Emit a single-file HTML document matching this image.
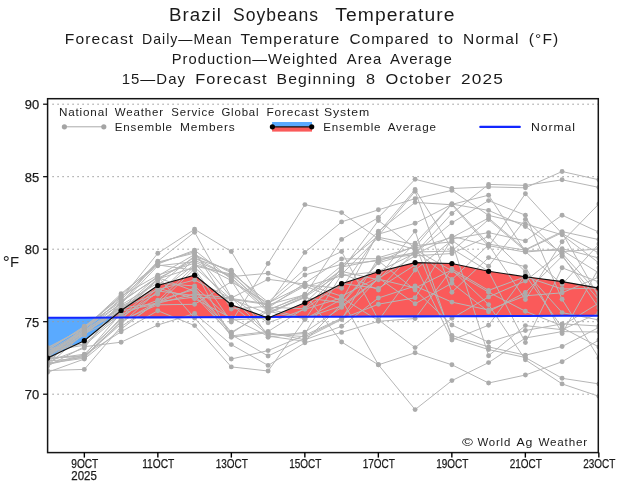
<!DOCTYPE html><html><head><meta charset="utf-8"><title>Brazil Soybeans Temperature</title>
<style>html,body{margin:0;padding:0;background:#fff}svg{display:block}text{font-family:"Liberation Sans",sans-serif;fill:#1a1a1a}</style></head><body>
<svg width="621" height="488" viewBox="0 0 621 488">
<rect width="621" height="488" fill="#fff"/>
<text x="168.9" y="21.2" font-size="17.5" letter-spacing="1.0" textLength="53.2" lengthAdjust="spacingAndGlyphs">Brazil</text>
<text x="233.1" y="21.2" font-size="17.5" letter-spacing="1.0" textLength="85.9" lengthAdjust="spacingAndGlyphs">Soybeans</text>
<text x="335.2" y="21.2" font-size="17.5" letter-spacing="1.0" textLength="120.4" lengthAdjust="spacingAndGlyphs">Temperature</text>
<text x="64.8" y="44.0" font-size="14.5" letter-spacing="1.0" textLength="69.4" lengthAdjust="spacingAndGlyphs">Forecast</text>
<text x="142.1" y="44.0" font-size="14.5" letter-spacing="1.0" textLength="90.5" lengthAdjust="spacingAndGlyphs">Daily—Mean</text>
<text x="240.5" y="44.0" font-size="14.5" letter-spacing="1.0" textLength="99.9" lengthAdjust="spacingAndGlyphs">Temperature</text>
<text x="349.4" y="44.0" font-size="14.5" letter-spacing="1.0" textLength="80.2" lengthAdjust="spacingAndGlyphs">Compared</text>
<text x="438.3" y="44.0" font-size="14.5" letter-spacing="1.0" textLength="15.8" lengthAdjust="spacingAndGlyphs">to</text>
<text x="463.1" y="44.0" font-size="14.5" letter-spacing="1.0" textLength="56.5" lengthAdjust="spacingAndGlyphs">Normal</text>
<text x="528.8" y="44.0" font-size="14.5" letter-spacing="1.0" textLength="30.5" lengthAdjust="spacingAndGlyphs">(°F)</text>
<text x="171.7" y="63.6" font-size="14.5" letter-spacing="1.0" textLength="166.6" lengthAdjust="spacingAndGlyphs">Production—Weighted</text>
<text x="346.8" y="63.6" font-size="14.5" letter-spacing="1.0" textLength="35.4" lengthAdjust="spacingAndGlyphs">Area</text>
<text x="389.9" y="63.6" font-size="14.5" letter-spacing="1.0" textLength="62.9" lengthAdjust="spacingAndGlyphs">Average</text>
<text x="121.7" y="84.3" font-size="14.5" letter-spacing="1.0" textLength="64.3" lengthAdjust="spacingAndGlyphs">15—Day</text>
<text x="195.2" y="84.3" font-size="14.5" letter-spacing="1.0" textLength="72.5" lengthAdjust="spacingAndGlyphs">Forecast</text>
<text x="276.6" y="84.3" font-size="14.5" letter-spacing="1.0" textLength="79.7" lengthAdjust="spacingAndGlyphs">Beginning</text>
<text x="366.1" y="84.3" font-size="14.5" letter-spacing="1.0" textLength="10.2" lengthAdjust="spacingAndGlyphs">8</text>
<text x="385.5" y="84.3" font-size="14.5" letter-spacing="1.0" textLength="66.3" lengthAdjust="spacingAndGlyphs">October</text>
<text x="461.0" y="84.3" font-size="14.5" letter-spacing="1.0" textLength="43.1" lengthAdjust="spacingAndGlyphs">2025</text>
<defs><clipPath id="c"><rect x="47.6" y="98.7" width="550.6999999999999" height="353.90000000000003"/></clipPath></defs>
<g clip-path="url(#c)">
<path d="M47.6,358.1 L84.3,340.7 L112.5,317.6 L112.5,317.6 L84.3,317.7 L47.6,317.8Z" fill="#5aaaff"/>
<path d="M112.5,317.6 L121.1,310.5 L157.8,285.5 L194.6,275.2 L231.3,304.7 L265.5,317.0 L265.5,317.0 L231.3,317.1 L194.6,317.2 L157.8,317.4 L121.1,317.5 L112.5,317.6Z" fill="#fa5a5a"/>
<path d="M265.5,317.0 L268.1,317.9 L270.4,317.0 L270.4,317.0 L268.1,317.0 L265.5,317.0Z" fill="#5aaaff"/>
<path d="M270.4,317.0 L304.9,302.8 L341.6,283.7 L378.4,271.7 L415.1,262.6 L451.9,263.5 L488.6,271.3 L525.4,276.7 L562.1,281.6 L598.9,288.1 L598.9,315.7 L562.1,315.8 L525.4,316.0 L488.6,316.1 L451.9,316.3 L415.1,316.4 L378.4,316.5 L341.6,316.7 L304.9,316.8 L270.4,317.0Z" fill="#fa5a5a"/>
<line x1="52.3" x2="598.3" y1="394.2" y2="394.2" stroke="#9c9c9c" stroke-width="1" stroke-dasharray="1.6 3.4"/>
<line x1="52.3" x2="598.3" y1="321.7" y2="321.7" stroke="#9c9c9c" stroke-width="1" stroke-dasharray="1.6 3.4"/>
<line x1="52.3" x2="598.3" y1="249.2" y2="249.2" stroke="#9c9c9c" stroke-width="1" stroke-dasharray="1.6 3.4"/>
<line x1="52.3" x2="598.3" y1="176.7" y2="176.7" stroke="#9c9c9c" stroke-width="1" stroke-dasharray="1.6 3.4"/>
<line x1="52.3" x2="598.3" y1="104.2" y2="104.2" stroke="#9c9c9c" stroke-width="1" stroke-dasharray="1.6 3.4"/>
<path d="M47.6,352.4 L84.3,331.6 L121.1,311.0 L157.8,304.0 L194.6,268.9 L231.3,322.0 L268.1,263.5 L304.9,204.6 L341.6,212.6 L378.4,238.8 L415.1,249.5 L451.9,270.8 L488.6,292.2 L525.4,311.3 L562.1,325.8 L598.9,303.0" fill="none" stroke="#b6b6b6" stroke-width="1"/>
<path d="M47.6,355.2 L84.3,333.7 L121.1,316.0 L157.8,285.5 L194.6,255.9 L231.3,271.5 L268.1,305.5 L304.9,252.4 L341.6,221.9 L378.4,209.8 L415.1,198.7 L451.9,190.4 L488.6,215.4 L525.4,224.0 L562.1,234.8 L598.9,263.0" fill="none" stroke="#b6b6b6" stroke-width="1"/>
<path d="M47.6,354.5 L84.3,332.6 L121.1,310.0 L157.8,279.0 L194.6,267.4 L231.3,299.3 L268.1,304.7 L304.9,294.9 L341.6,239.4 L378.4,217.5 L415.1,179.3 L451.9,188.5 L488.6,186.9 L525.4,187.8 L562.1,171.5 L598.9,179.8" fill="none" stroke="#b6b6b6" stroke-width="1"/>
<path d="M47.6,351.7 L84.3,329.4 L121.1,295.0 L157.8,263.0 L194.6,251.6 L231.3,309.0 L268.1,306.3 L304.9,285.9 L341.6,301.0 L378.4,232.7 L415.1,189.5 L451.9,248.7 L488.6,271.3 L525.4,342.6 L562.1,267.8 L598.9,282.0" fill="none" stroke="#b6b6b6" stroke-width="1"/>
<path d="M47.6,365.3 L84.3,333.2 L121.1,307.0 L157.8,294.0 L194.6,258.8 L231.3,270.2 L268.1,308.0 L304.9,283.2 L341.6,258.9 L378.4,258.7 L415.1,253.0 L451.9,213.5 L488.6,184.4 L525.4,185.4 L562.1,179.8 L598.9,187.4" fill="none" stroke="#b6b6b6" stroke-width="1"/>
<path d="M47.6,356.6 L84.3,334.8 L121.1,305.0 L157.8,283.0 L194.6,286.0 L231.3,320.0 L268.1,318.0 L304.9,303.0 L341.6,268.6 L378.4,231.2 L415.1,202.4 L451.9,204.8 L488.6,246.5 L525.4,193.7 L562.1,233.7 L598.9,253.0" fill="none" stroke="#b6b6b6" stroke-width="1"/>
<path d="M47.6,353.8 L84.3,332.1 L121.1,303.0 L157.8,262.1 L194.6,253.1 L231.3,297.6 L268.1,333.8 L304.9,336.7 L341.6,318.9 L378.4,304.2 L415.1,297.8 L451.9,239.0 L488.6,232.6 L525.4,240.9 L562.1,215.2 L598.9,232.2" fill="none" stroke="#b6b6b6" stroke-width="1"/>
<path d="M47.6,357.3 L84.3,356.9 L121.1,322.0 L157.8,301.7 L194.6,297.1 L231.3,298.9 L268.1,313.8 L304.9,297.1 L341.6,272.9 L378.4,290.0 L415.1,250.8 L451.9,279.5 L488.6,244.9 L525.4,299.6 L562.1,241.7 L598.9,203.9" fill="none" stroke="#b6b6b6" stroke-width="1"/>
<path d="M47.6,370.5 L84.3,369.4 L121.1,326.6 L157.8,302.5 L194.6,287.8 L231.3,332.2 L268.1,311.3 L304.9,318.9 L341.6,299.4 L378.4,364.8 L415.1,409.6 L451.9,380.6 L488.6,362.6 L525.4,338.0 L562.1,331.6 L598.9,332.0" fill="none" stroke="#b6b6b6" stroke-width="1"/>
<path d="M47.6,372.3 L84.3,359.0 L121.1,329.2 L157.8,301.0 L194.6,266.0 L231.3,274.1 L268.1,310.5 L304.9,294.2 L341.6,342.0 L378.4,364.8 L415.1,352.8 L451.9,364.8 L488.6,383.0 L525.4,375.0 L562.1,361.7 L598.9,340.0" fill="none" stroke="#b6b6b6" stroke-width="1"/>
<path d="M47.6,353.1 L84.3,330.5 L121.1,309.0 L157.8,276.0 L194.6,254.5 L231.3,272.8 L268.1,302.2 L304.9,269.0 L341.6,251.5 L378.4,319.8 L415.1,347.6 L451.9,318.3 L488.6,296.9 L525.4,281.0 L562.1,251.7 L598.9,249.0" fill="none" stroke="#b6b6b6" stroke-width="1"/>
<path d="M47.6,362.6 L84.3,330.0 L121.1,308.0 L157.8,303.3 L194.6,294.0 L231.3,298.0 L268.1,279.3 L304.9,284.1 L341.6,296.2 L378.4,277.2 L415.1,231.1 L451.9,337.8 L488.6,349.6 L525.4,357.5 L562.1,378.3 L598.9,383.9" fill="none" stroke="#b6b6b6" stroke-width="1"/>
<path d="M47.6,348.2 L84.3,327.8 L121.1,304.0 L157.8,265.8 L194.6,261.7 L231.3,280.5 L268.1,337.2 L304.9,332.2 L341.6,307.4 L378.4,279.1 L415.1,288.0 L451.9,269.9 L488.6,304.6 L525.4,359.8 L562.1,383.9 L598.9,396.3" fill="none" stroke="#b6b6b6" stroke-width="1"/>
<path d="M47.6,348.9 L84.3,344.0 L121.1,312.0 L157.8,278.3 L194.6,260.2 L231.3,276.6 L268.1,273.3 L304.9,286.8 L341.6,275.8 L378.4,271.5 L415.1,253.3 L451.9,222.8 L488.6,200.6 L525.4,215.2 L562.1,299.3 L598.9,358.0" fill="none" stroke="#b6b6b6" stroke-width="1"/>
<path d="M47.6,349.6 L84.3,327.3 L121.1,296.2 L157.8,275.2 L194.6,263.1 L231.3,304.5 L268.1,334.9 L304.9,333.7 L341.6,274.4 L378.4,237.3 L415.1,244.5 L451.9,335.5 L488.6,346.9 L525.4,355.2 L562.1,346.5 L598.9,327.4" fill="none" stroke="#b6b6b6" stroke-width="1"/>
<path d="M47.6,366.0 L84.3,346.7 L121.1,342.2 L157.8,325.0 L194.6,313.5 L231.3,344.6 L268.1,365.4 L304.9,342.8 L341.6,332.4 L378.4,321.3 L415.1,318.5 L451.9,269.0 L488.6,290.4 L525.4,276.7 L562.1,289.0 L598.9,288.0" fill="none" stroke="#b6b6b6" stroke-width="1"/>
<path d="M47.6,360.5 L84.3,331.0 L121.1,298.7 L157.8,253.3 L194.6,229.3 L231.3,251.5 L268.1,313.0 L304.9,296.4 L341.6,265.6 L378.4,235.8 L415.1,191.3 L451.9,292.2 L488.6,257.6 L525.4,266.7 L562.1,333.5 L598.9,268.0" fill="none" stroke="#b6b6b6" stroke-width="1"/>
<path d="M47.6,355.9 L84.3,328.9 L121.1,300.0 L157.8,261.2 L194.6,232.2 L231.3,297.2 L268.1,322.8 L304.9,309.3 L341.6,297.8 L378.4,320.6 L415.1,270.0 L451.9,240.4 L488.6,266.3 L525.4,219.4 L562.1,254.8 L598.9,308.0" fill="none" stroke="#b6b6b6" stroke-width="1"/>
<path d="M47.6,364.0 L84.3,354.9 L121.1,331.8 L157.8,310.7 L194.6,325.6 L231.3,366.9 L268.1,371.0 L304.9,319.5 L341.6,267.1 L378.4,259.7 L415.1,254.5 L451.9,236.2 L488.6,245.7 L525.4,252.1 L562.1,248.7 L598.9,258.0" fill="none" stroke="#b6b6b6" stroke-width="1"/>
<path d="M47.6,350.3 L84.3,326.2 L121.1,302.0 L157.8,276.7 L194.6,318.0 L231.3,359.0 L268.1,350.6 L304.9,335.2 L341.6,318.2 L378.4,277.9 L415.1,303.7 L451.9,283.2 L488.6,311.7 L525.4,292.5 L562.1,256.3 L598.9,300.0" fill="none" stroke="#b6b6b6" stroke-width="1"/>
<path d="M47.6,361.2 L84.3,357.6 L121.1,317.5 L157.8,292.5 L194.6,264.6 L231.3,275.4 L268.1,307.2 L304.9,308.8 L341.6,283.5 L378.4,288.4 L415.1,265.0 L451.9,340.0 L488.6,325.2 L525.4,275.0 L562.1,327.7 L598.9,347.0" fill="none" stroke="#b6b6b6" stroke-width="1"/>
<path d="M47.6,359.9 L84.3,334.3 L121.1,306.0 L157.8,289.5 L194.6,280.0 L231.3,298.5 L268.1,303.9 L304.9,275.0 L341.6,264.2 L378.4,260.8 L415.1,290.0 L451.9,325.0 L488.6,342.2 L525.4,330.5 L562.1,323.9 L598.9,326.0" fill="none" stroke="#b6b6b6" stroke-width="1"/>
<path d="M47.6,347.5 L84.3,328.4 L121.1,293.7 L157.8,264.0 L194.6,250.2 L231.3,279.2 L268.1,312.1 L304.9,297.8 L341.6,302.6 L378.4,261.8 L415.1,245.7 L451.9,241.8 L488.6,355.7 L525.4,325.6 L562.1,329.7 L598.9,313.0" fill="none" stroke="#b6b6b6" stroke-width="1"/>
<path d="M47.6,351.0 L84.3,345.3 L121.1,314.5 L157.8,300.2 L194.6,289.5 L231.3,333.4 L268.1,308.8 L304.9,318.2 L341.6,305.8 L378.4,278.5 L415.1,255.8 L451.9,253.5 L488.6,236.3 L525.4,271.7 L562.1,312.6 L598.9,320.0" fill="none" stroke="#b6b6b6" stroke-width="1"/>
<path d="M47.6,363.3 L84.3,358.3 L121.1,320.5 L157.8,304.8 L194.6,304.3 L231.3,281.8 L268.1,303.0 L304.9,285.0 L341.6,288.3 L378.4,234.2 L415.1,223.3 L451.9,204.4 L488.6,195.2 L525.4,251.5 L562.1,284.4 L598.9,244.0" fill="none" stroke="#b6b6b6" stroke-width="1"/>
<path d="M47.6,361.9 L84.3,348.0 L121.1,301.0 L157.8,277.5 L194.6,291.3 L231.3,335.9 L268.1,331.5 L304.9,308.2 L341.6,271.4 L378.4,279.8 L415.1,243.2 L451.9,204.1 L488.6,210.4 L525.4,226.5 L562.1,253.3 L598.9,294.0" fill="none" stroke="#b6b6b6" stroke-width="1"/>
<path d="M47.6,359.2 L84.3,354.2 L121.1,319.0 L157.8,288.0 L194.6,298.7 L231.3,318.0 L268.1,336.1 L304.9,341.3 L341.6,304.2 L378.4,262.8 L415.1,252.0 L451.9,251.1 L488.6,219.6 L525.4,250.9 L562.1,250.2 L598.9,273.0" fill="none" stroke="#b6b6b6" stroke-width="1"/>
<path d="M47.6,358.5 L84.3,355.6 L121.1,313.0 L157.8,279.8 L194.6,257.4 L231.3,277.9 L268.1,309.7 L304.9,295.6 L341.6,270.0 L378.4,220.5 L415.1,248.2 L451.9,237.6 L488.6,218.0 L525.4,249.6 L562.1,231.6 L598.9,239.6" fill="none" stroke="#b6b6b6" stroke-width="1"/>
<path d="M47.6,364.6 L84.3,356.3 L121.1,324.0 L157.8,291.0 L194.6,295.6 L231.3,334.7 L268.1,356.0 L304.9,338.3 L341.6,319.5 L378.4,257.7 L415.1,247.0 L451.9,203.7 L488.6,244.1 L525.4,250.2 L562.1,232.7 L598.9,297.0" fill="none" stroke="#b6b6b6" stroke-width="1"/>
<path d="M47.6,358.0 L84.3,326.7 L121.1,297.5 L157.8,264.9 L194.6,270.3 L231.3,337.2 L268.1,332.6 L304.9,339.8 L341.6,326.3 L378.4,298.0 L415.1,286.0 L451.9,302.1 L488.6,310.0 L525.4,295.8 L562.1,292.8 L598.9,277.0" fill="none" stroke="#b6b6b6" stroke-width="1"/>
<circle cx="47.6" cy="352.4" r="2.45" fill="#ababab"/>
<circle cx="84.3" cy="331.6" r="2.45" fill="#ababab"/>
<circle cx="121.1" cy="311.0" r="2.45" fill="#ababab"/>
<circle cx="157.8" cy="304.0" r="2.45" fill="#ababab"/>
<circle cx="194.6" cy="268.9" r="2.45" fill="#ababab"/>
<circle cx="231.3" cy="322.0" r="2.45" fill="#ababab"/>
<circle cx="268.1" cy="263.5" r="2.45" fill="#ababab"/>
<circle cx="304.9" cy="204.6" r="2.45" fill="#ababab"/>
<circle cx="341.6" cy="212.6" r="2.45" fill="#ababab"/>
<circle cx="378.4" cy="238.8" r="2.45" fill="#ababab"/>
<circle cx="415.1" cy="249.5" r="2.45" fill="#ababab"/>
<circle cx="451.9" cy="270.8" r="2.45" fill="#ababab"/>
<circle cx="488.6" cy="292.2" r="2.45" fill="#ababab"/>
<circle cx="525.4" cy="311.3" r="2.45" fill="#ababab"/>
<circle cx="562.1" cy="325.8" r="2.45" fill="#ababab"/>
<circle cx="598.9" cy="303.0" r="2.45" fill="#ababab"/>
<circle cx="47.6" cy="355.2" r="2.45" fill="#ababab"/>
<circle cx="84.3" cy="333.7" r="2.45" fill="#ababab"/>
<circle cx="121.1" cy="316.0" r="2.45" fill="#ababab"/>
<circle cx="157.8" cy="285.5" r="2.45" fill="#ababab"/>
<circle cx="194.6" cy="255.9" r="2.45" fill="#ababab"/>
<circle cx="231.3" cy="271.5" r="2.45" fill="#ababab"/>
<circle cx="268.1" cy="305.5" r="2.45" fill="#ababab"/>
<circle cx="304.9" cy="252.4" r="2.45" fill="#ababab"/>
<circle cx="341.6" cy="221.9" r="2.45" fill="#ababab"/>
<circle cx="378.4" cy="209.8" r="2.45" fill="#ababab"/>
<circle cx="415.1" cy="198.7" r="2.45" fill="#ababab"/>
<circle cx="451.9" cy="190.4" r="2.45" fill="#ababab"/>
<circle cx="488.6" cy="215.4" r="2.45" fill="#ababab"/>
<circle cx="525.4" cy="224.0" r="2.45" fill="#ababab"/>
<circle cx="562.1" cy="234.8" r="2.45" fill="#ababab"/>
<circle cx="598.9" cy="263.0" r="2.45" fill="#ababab"/>
<circle cx="47.6" cy="354.5" r="2.45" fill="#ababab"/>
<circle cx="84.3" cy="332.6" r="2.45" fill="#ababab"/>
<circle cx="121.1" cy="310.0" r="2.45" fill="#ababab"/>
<circle cx="157.8" cy="279.0" r="2.45" fill="#ababab"/>
<circle cx="194.6" cy="267.4" r="2.45" fill="#ababab"/>
<circle cx="231.3" cy="299.3" r="2.45" fill="#ababab"/>
<circle cx="268.1" cy="304.7" r="2.45" fill="#ababab"/>
<circle cx="304.9" cy="294.9" r="2.45" fill="#ababab"/>
<circle cx="341.6" cy="239.4" r="2.45" fill="#ababab"/>
<circle cx="378.4" cy="217.5" r="2.45" fill="#ababab"/>
<circle cx="415.1" cy="179.3" r="2.45" fill="#ababab"/>
<circle cx="451.9" cy="188.5" r="2.45" fill="#ababab"/>
<circle cx="488.6" cy="186.9" r="2.45" fill="#ababab"/>
<circle cx="525.4" cy="187.8" r="2.45" fill="#ababab"/>
<circle cx="562.1" cy="171.5" r="2.45" fill="#ababab"/>
<circle cx="598.9" cy="179.8" r="2.45" fill="#ababab"/>
<circle cx="47.6" cy="351.7" r="2.45" fill="#ababab"/>
<circle cx="84.3" cy="329.4" r="2.45" fill="#ababab"/>
<circle cx="121.1" cy="295.0" r="2.45" fill="#ababab"/>
<circle cx="157.8" cy="263.0" r="2.45" fill="#ababab"/>
<circle cx="194.6" cy="251.6" r="2.45" fill="#ababab"/>
<circle cx="231.3" cy="309.0" r="2.45" fill="#ababab"/>
<circle cx="268.1" cy="306.3" r="2.45" fill="#ababab"/>
<circle cx="304.9" cy="285.9" r="2.45" fill="#ababab"/>
<circle cx="341.6" cy="301.0" r="2.45" fill="#ababab"/>
<circle cx="378.4" cy="232.7" r="2.45" fill="#ababab"/>
<circle cx="415.1" cy="189.5" r="2.45" fill="#ababab"/>
<circle cx="451.9" cy="248.7" r="2.45" fill="#ababab"/>
<circle cx="488.6" cy="271.3" r="2.45" fill="#ababab"/>
<circle cx="525.4" cy="342.6" r="2.45" fill="#ababab"/>
<circle cx="562.1" cy="267.8" r="2.45" fill="#ababab"/>
<circle cx="598.9" cy="282.0" r="2.45" fill="#ababab"/>
<circle cx="47.6" cy="365.3" r="2.45" fill="#ababab"/>
<circle cx="84.3" cy="333.2" r="2.45" fill="#ababab"/>
<circle cx="121.1" cy="307.0" r="2.45" fill="#ababab"/>
<circle cx="157.8" cy="294.0" r="2.45" fill="#ababab"/>
<circle cx="194.6" cy="258.8" r="2.45" fill="#ababab"/>
<circle cx="231.3" cy="270.2" r="2.45" fill="#ababab"/>
<circle cx="268.1" cy="308.0" r="2.45" fill="#ababab"/>
<circle cx="304.9" cy="283.2" r="2.45" fill="#ababab"/>
<circle cx="341.6" cy="258.9" r="2.45" fill="#ababab"/>
<circle cx="378.4" cy="258.7" r="2.45" fill="#ababab"/>
<circle cx="415.1" cy="253.0" r="2.45" fill="#ababab"/>
<circle cx="451.9" cy="213.5" r="2.45" fill="#ababab"/>
<circle cx="488.6" cy="184.4" r="2.45" fill="#ababab"/>
<circle cx="525.4" cy="185.4" r="2.45" fill="#ababab"/>
<circle cx="562.1" cy="179.8" r="2.45" fill="#ababab"/>
<circle cx="598.9" cy="187.4" r="2.45" fill="#ababab"/>
<circle cx="47.6" cy="356.6" r="2.45" fill="#ababab"/>
<circle cx="84.3" cy="334.8" r="2.45" fill="#ababab"/>
<circle cx="121.1" cy="305.0" r="2.45" fill="#ababab"/>
<circle cx="157.8" cy="283.0" r="2.45" fill="#ababab"/>
<circle cx="194.6" cy="286.0" r="2.45" fill="#ababab"/>
<circle cx="231.3" cy="320.0" r="2.45" fill="#ababab"/>
<circle cx="268.1" cy="318.0" r="2.45" fill="#ababab"/>
<circle cx="304.9" cy="303.0" r="2.45" fill="#ababab"/>
<circle cx="341.6" cy="268.6" r="2.45" fill="#ababab"/>
<circle cx="378.4" cy="231.2" r="2.45" fill="#ababab"/>
<circle cx="415.1" cy="202.4" r="2.45" fill="#ababab"/>
<circle cx="451.9" cy="204.8" r="2.45" fill="#ababab"/>
<circle cx="488.6" cy="246.5" r="2.45" fill="#ababab"/>
<circle cx="525.4" cy="193.7" r="2.45" fill="#ababab"/>
<circle cx="562.1" cy="233.7" r="2.45" fill="#ababab"/>
<circle cx="598.9" cy="253.0" r="2.45" fill="#ababab"/>
<circle cx="47.6" cy="353.8" r="2.45" fill="#ababab"/>
<circle cx="84.3" cy="332.1" r="2.45" fill="#ababab"/>
<circle cx="121.1" cy="303.0" r="2.45" fill="#ababab"/>
<circle cx="157.8" cy="262.1" r="2.45" fill="#ababab"/>
<circle cx="194.6" cy="253.1" r="2.45" fill="#ababab"/>
<circle cx="231.3" cy="297.6" r="2.45" fill="#ababab"/>
<circle cx="268.1" cy="333.8" r="2.45" fill="#ababab"/>
<circle cx="304.9" cy="336.7" r="2.45" fill="#ababab"/>
<circle cx="341.6" cy="318.9" r="2.45" fill="#ababab"/>
<circle cx="378.4" cy="304.2" r="2.45" fill="#ababab"/>
<circle cx="415.1" cy="297.8" r="2.45" fill="#ababab"/>
<circle cx="451.9" cy="239.0" r="2.45" fill="#ababab"/>
<circle cx="488.6" cy="232.6" r="2.45" fill="#ababab"/>
<circle cx="525.4" cy="240.9" r="2.45" fill="#ababab"/>
<circle cx="562.1" cy="215.2" r="2.45" fill="#ababab"/>
<circle cx="598.9" cy="232.2" r="2.45" fill="#ababab"/>
<circle cx="47.6" cy="357.3" r="2.45" fill="#ababab"/>
<circle cx="84.3" cy="356.9" r="2.45" fill="#ababab"/>
<circle cx="121.1" cy="322.0" r="2.45" fill="#ababab"/>
<circle cx="157.8" cy="301.7" r="2.45" fill="#ababab"/>
<circle cx="194.6" cy="297.1" r="2.45" fill="#ababab"/>
<circle cx="231.3" cy="298.9" r="2.45" fill="#ababab"/>
<circle cx="268.1" cy="313.8" r="2.45" fill="#ababab"/>
<circle cx="304.9" cy="297.1" r="2.45" fill="#ababab"/>
<circle cx="341.6" cy="272.9" r="2.45" fill="#ababab"/>
<circle cx="378.4" cy="290.0" r="2.45" fill="#ababab"/>
<circle cx="415.1" cy="250.8" r="2.45" fill="#ababab"/>
<circle cx="451.9" cy="279.5" r="2.45" fill="#ababab"/>
<circle cx="488.6" cy="244.9" r="2.45" fill="#ababab"/>
<circle cx="525.4" cy="299.6" r="2.45" fill="#ababab"/>
<circle cx="562.1" cy="241.7" r="2.45" fill="#ababab"/>
<circle cx="598.9" cy="203.9" r="2.45" fill="#ababab"/>
<circle cx="47.6" cy="370.5" r="2.45" fill="#ababab"/>
<circle cx="84.3" cy="369.4" r="2.45" fill="#ababab"/>
<circle cx="121.1" cy="326.6" r="2.45" fill="#ababab"/>
<circle cx="157.8" cy="302.5" r="2.45" fill="#ababab"/>
<circle cx="194.6" cy="287.8" r="2.45" fill="#ababab"/>
<circle cx="231.3" cy="332.2" r="2.45" fill="#ababab"/>
<circle cx="268.1" cy="311.3" r="2.45" fill="#ababab"/>
<circle cx="304.9" cy="318.9" r="2.45" fill="#ababab"/>
<circle cx="341.6" cy="299.4" r="2.45" fill="#ababab"/>
<circle cx="378.4" cy="364.8" r="2.45" fill="#ababab"/>
<circle cx="415.1" cy="409.6" r="2.45" fill="#ababab"/>
<circle cx="451.9" cy="380.6" r="2.45" fill="#ababab"/>
<circle cx="488.6" cy="362.6" r="2.45" fill="#ababab"/>
<circle cx="525.4" cy="338.0" r="2.45" fill="#ababab"/>
<circle cx="562.1" cy="331.6" r="2.45" fill="#ababab"/>
<circle cx="598.9" cy="332.0" r="2.45" fill="#ababab"/>
<circle cx="47.6" cy="372.3" r="2.45" fill="#ababab"/>
<circle cx="84.3" cy="359.0" r="2.45" fill="#ababab"/>
<circle cx="121.1" cy="329.2" r="2.45" fill="#ababab"/>
<circle cx="157.8" cy="301.0" r="2.45" fill="#ababab"/>
<circle cx="194.6" cy="266.0" r="2.45" fill="#ababab"/>
<circle cx="231.3" cy="274.1" r="2.45" fill="#ababab"/>
<circle cx="268.1" cy="310.5" r="2.45" fill="#ababab"/>
<circle cx="304.9" cy="294.2" r="2.45" fill="#ababab"/>
<circle cx="341.6" cy="342.0" r="2.45" fill="#ababab"/>
<circle cx="378.4" cy="364.8" r="2.45" fill="#ababab"/>
<circle cx="415.1" cy="352.8" r="2.45" fill="#ababab"/>
<circle cx="451.9" cy="364.8" r="2.45" fill="#ababab"/>
<circle cx="488.6" cy="383.0" r="2.45" fill="#ababab"/>
<circle cx="525.4" cy="375.0" r="2.45" fill="#ababab"/>
<circle cx="562.1" cy="361.7" r="2.45" fill="#ababab"/>
<circle cx="598.9" cy="340.0" r="2.45" fill="#ababab"/>
<circle cx="47.6" cy="353.1" r="2.45" fill="#ababab"/>
<circle cx="84.3" cy="330.5" r="2.45" fill="#ababab"/>
<circle cx="121.1" cy="309.0" r="2.45" fill="#ababab"/>
<circle cx="157.8" cy="276.0" r="2.45" fill="#ababab"/>
<circle cx="194.6" cy="254.5" r="2.45" fill="#ababab"/>
<circle cx="231.3" cy="272.8" r="2.45" fill="#ababab"/>
<circle cx="268.1" cy="302.2" r="2.45" fill="#ababab"/>
<circle cx="304.9" cy="269.0" r="2.45" fill="#ababab"/>
<circle cx="341.6" cy="251.5" r="2.45" fill="#ababab"/>
<circle cx="378.4" cy="319.8" r="2.45" fill="#ababab"/>
<circle cx="415.1" cy="347.6" r="2.45" fill="#ababab"/>
<circle cx="451.9" cy="318.3" r="2.45" fill="#ababab"/>
<circle cx="488.6" cy="296.9" r="2.45" fill="#ababab"/>
<circle cx="525.4" cy="281.0" r="2.45" fill="#ababab"/>
<circle cx="562.1" cy="251.7" r="2.45" fill="#ababab"/>
<circle cx="598.9" cy="249.0" r="2.45" fill="#ababab"/>
<circle cx="47.6" cy="362.6" r="2.45" fill="#ababab"/>
<circle cx="84.3" cy="330.0" r="2.45" fill="#ababab"/>
<circle cx="121.1" cy="308.0" r="2.45" fill="#ababab"/>
<circle cx="157.8" cy="303.3" r="2.45" fill="#ababab"/>
<circle cx="194.6" cy="294.0" r="2.45" fill="#ababab"/>
<circle cx="231.3" cy="298.0" r="2.45" fill="#ababab"/>
<circle cx="268.1" cy="279.3" r="2.45" fill="#ababab"/>
<circle cx="304.9" cy="284.1" r="2.45" fill="#ababab"/>
<circle cx="341.6" cy="296.2" r="2.45" fill="#ababab"/>
<circle cx="378.4" cy="277.2" r="2.45" fill="#ababab"/>
<circle cx="415.1" cy="231.1" r="2.45" fill="#ababab"/>
<circle cx="451.9" cy="337.8" r="2.45" fill="#ababab"/>
<circle cx="488.6" cy="349.6" r="2.45" fill="#ababab"/>
<circle cx="525.4" cy="357.5" r="2.45" fill="#ababab"/>
<circle cx="562.1" cy="378.3" r="2.45" fill="#ababab"/>
<circle cx="598.9" cy="383.9" r="2.45" fill="#ababab"/>
<circle cx="47.6" cy="348.2" r="2.45" fill="#ababab"/>
<circle cx="84.3" cy="327.8" r="2.45" fill="#ababab"/>
<circle cx="121.1" cy="304.0" r="2.45" fill="#ababab"/>
<circle cx="157.8" cy="265.8" r="2.45" fill="#ababab"/>
<circle cx="194.6" cy="261.7" r="2.45" fill="#ababab"/>
<circle cx="231.3" cy="280.5" r="2.45" fill="#ababab"/>
<circle cx="268.1" cy="337.2" r="2.45" fill="#ababab"/>
<circle cx="304.9" cy="332.2" r="2.45" fill="#ababab"/>
<circle cx="341.6" cy="307.4" r="2.45" fill="#ababab"/>
<circle cx="378.4" cy="279.1" r="2.45" fill="#ababab"/>
<circle cx="415.1" cy="288.0" r="2.45" fill="#ababab"/>
<circle cx="451.9" cy="269.9" r="2.45" fill="#ababab"/>
<circle cx="488.6" cy="304.6" r="2.45" fill="#ababab"/>
<circle cx="525.4" cy="359.8" r="2.45" fill="#ababab"/>
<circle cx="562.1" cy="383.9" r="2.45" fill="#ababab"/>
<circle cx="598.9" cy="396.3" r="2.45" fill="#ababab"/>
<circle cx="47.6" cy="348.9" r="2.45" fill="#ababab"/>
<circle cx="84.3" cy="344.0" r="2.45" fill="#ababab"/>
<circle cx="121.1" cy="312.0" r="2.45" fill="#ababab"/>
<circle cx="157.8" cy="278.3" r="2.45" fill="#ababab"/>
<circle cx="194.6" cy="260.2" r="2.45" fill="#ababab"/>
<circle cx="231.3" cy="276.6" r="2.45" fill="#ababab"/>
<circle cx="268.1" cy="273.3" r="2.45" fill="#ababab"/>
<circle cx="304.9" cy="286.8" r="2.45" fill="#ababab"/>
<circle cx="341.6" cy="275.8" r="2.45" fill="#ababab"/>
<circle cx="378.4" cy="271.5" r="2.45" fill="#ababab"/>
<circle cx="415.1" cy="253.3" r="2.45" fill="#ababab"/>
<circle cx="451.9" cy="222.8" r="2.45" fill="#ababab"/>
<circle cx="488.6" cy="200.6" r="2.45" fill="#ababab"/>
<circle cx="525.4" cy="215.2" r="2.45" fill="#ababab"/>
<circle cx="562.1" cy="299.3" r="2.45" fill="#ababab"/>
<circle cx="598.9" cy="358.0" r="2.45" fill="#ababab"/>
<circle cx="47.6" cy="349.6" r="2.45" fill="#ababab"/>
<circle cx="84.3" cy="327.3" r="2.45" fill="#ababab"/>
<circle cx="121.1" cy="296.2" r="2.45" fill="#ababab"/>
<circle cx="157.8" cy="275.2" r="2.45" fill="#ababab"/>
<circle cx="194.6" cy="263.1" r="2.45" fill="#ababab"/>
<circle cx="231.3" cy="304.5" r="2.45" fill="#ababab"/>
<circle cx="268.1" cy="334.9" r="2.45" fill="#ababab"/>
<circle cx="304.9" cy="333.7" r="2.45" fill="#ababab"/>
<circle cx="341.6" cy="274.4" r="2.45" fill="#ababab"/>
<circle cx="378.4" cy="237.3" r="2.45" fill="#ababab"/>
<circle cx="415.1" cy="244.5" r="2.45" fill="#ababab"/>
<circle cx="451.9" cy="335.5" r="2.45" fill="#ababab"/>
<circle cx="488.6" cy="346.9" r="2.45" fill="#ababab"/>
<circle cx="525.4" cy="355.2" r="2.45" fill="#ababab"/>
<circle cx="562.1" cy="346.5" r="2.45" fill="#ababab"/>
<circle cx="598.9" cy="327.4" r="2.45" fill="#ababab"/>
<circle cx="47.6" cy="366.0" r="2.45" fill="#ababab"/>
<circle cx="84.3" cy="346.7" r="2.45" fill="#ababab"/>
<circle cx="121.1" cy="342.2" r="2.45" fill="#ababab"/>
<circle cx="157.8" cy="325.0" r="2.45" fill="#ababab"/>
<circle cx="194.6" cy="313.5" r="2.45" fill="#ababab"/>
<circle cx="231.3" cy="344.6" r="2.45" fill="#ababab"/>
<circle cx="268.1" cy="365.4" r="2.45" fill="#ababab"/>
<circle cx="304.9" cy="342.8" r="2.45" fill="#ababab"/>
<circle cx="341.6" cy="332.4" r="2.45" fill="#ababab"/>
<circle cx="378.4" cy="321.3" r="2.45" fill="#ababab"/>
<circle cx="415.1" cy="318.5" r="2.45" fill="#ababab"/>
<circle cx="451.9" cy="269.0" r="2.45" fill="#ababab"/>
<circle cx="488.6" cy="290.4" r="2.45" fill="#ababab"/>
<circle cx="525.4" cy="276.7" r="2.45" fill="#ababab"/>
<circle cx="562.1" cy="289.0" r="2.45" fill="#ababab"/>
<circle cx="598.9" cy="288.0" r="2.45" fill="#ababab"/>
<circle cx="47.6" cy="360.5" r="2.45" fill="#ababab"/>
<circle cx="84.3" cy="331.0" r="2.45" fill="#ababab"/>
<circle cx="121.1" cy="298.7" r="2.45" fill="#ababab"/>
<circle cx="157.8" cy="253.3" r="2.45" fill="#ababab"/>
<circle cx="194.6" cy="229.3" r="2.45" fill="#ababab"/>
<circle cx="231.3" cy="251.5" r="2.45" fill="#ababab"/>
<circle cx="268.1" cy="313.0" r="2.45" fill="#ababab"/>
<circle cx="304.9" cy="296.4" r="2.45" fill="#ababab"/>
<circle cx="341.6" cy="265.6" r="2.45" fill="#ababab"/>
<circle cx="378.4" cy="235.8" r="2.45" fill="#ababab"/>
<circle cx="415.1" cy="191.3" r="2.45" fill="#ababab"/>
<circle cx="451.9" cy="292.2" r="2.45" fill="#ababab"/>
<circle cx="488.6" cy="257.6" r="2.45" fill="#ababab"/>
<circle cx="525.4" cy="266.7" r="2.45" fill="#ababab"/>
<circle cx="562.1" cy="333.5" r="2.45" fill="#ababab"/>
<circle cx="598.9" cy="268.0" r="2.45" fill="#ababab"/>
<circle cx="47.6" cy="355.9" r="2.45" fill="#ababab"/>
<circle cx="84.3" cy="328.9" r="2.45" fill="#ababab"/>
<circle cx="121.1" cy="300.0" r="2.45" fill="#ababab"/>
<circle cx="157.8" cy="261.2" r="2.45" fill="#ababab"/>
<circle cx="194.6" cy="232.2" r="2.45" fill="#ababab"/>
<circle cx="231.3" cy="297.2" r="2.45" fill="#ababab"/>
<circle cx="268.1" cy="322.8" r="2.45" fill="#ababab"/>
<circle cx="304.9" cy="309.3" r="2.45" fill="#ababab"/>
<circle cx="341.6" cy="297.8" r="2.45" fill="#ababab"/>
<circle cx="378.4" cy="320.6" r="2.45" fill="#ababab"/>
<circle cx="415.1" cy="270.0" r="2.45" fill="#ababab"/>
<circle cx="451.9" cy="240.4" r="2.45" fill="#ababab"/>
<circle cx="488.6" cy="266.3" r="2.45" fill="#ababab"/>
<circle cx="525.4" cy="219.4" r="2.45" fill="#ababab"/>
<circle cx="562.1" cy="254.8" r="2.45" fill="#ababab"/>
<circle cx="598.9" cy="308.0" r="2.45" fill="#ababab"/>
<circle cx="47.6" cy="364.0" r="2.45" fill="#ababab"/>
<circle cx="84.3" cy="354.9" r="2.45" fill="#ababab"/>
<circle cx="121.1" cy="331.8" r="2.45" fill="#ababab"/>
<circle cx="157.8" cy="310.7" r="2.45" fill="#ababab"/>
<circle cx="194.6" cy="325.6" r="2.45" fill="#ababab"/>
<circle cx="231.3" cy="366.9" r="2.45" fill="#ababab"/>
<circle cx="268.1" cy="371.0" r="2.45" fill="#ababab"/>
<circle cx="304.9" cy="319.5" r="2.45" fill="#ababab"/>
<circle cx="341.6" cy="267.1" r="2.45" fill="#ababab"/>
<circle cx="378.4" cy="259.7" r="2.45" fill="#ababab"/>
<circle cx="415.1" cy="254.5" r="2.45" fill="#ababab"/>
<circle cx="451.9" cy="236.2" r="2.45" fill="#ababab"/>
<circle cx="488.6" cy="245.7" r="2.45" fill="#ababab"/>
<circle cx="525.4" cy="252.1" r="2.45" fill="#ababab"/>
<circle cx="562.1" cy="248.7" r="2.45" fill="#ababab"/>
<circle cx="598.9" cy="258.0" r="2.45" fill="#ababab"/>
<circle cx="47.6" cy="350.3" r="2.45" fill="#ababab"/>
<circle cx="84.3" cy="326.2" r="2.45" fill="#ababab"/>
<circle cx="121.1" cy="302.0" r="2.45" fill="#ababab"/>
<circle cx="157.8" cy="276.7" r="2.45" fill="#ababab"/>
<circle cx="194.6" cy="318.0" r="2.45" fill="#ababab"/>
<circle cx="231.3" cy="359.0" r="2.45" fill="#ababab"/>
<circle cx="268.1" cy="350.6" r="2.45" fill="#ababab"/>
<circle cx="304.9" cy="335.2" r="2.45" fill="#ababab"/>
<circle cx="341.6" cy="318.2" r="2.45" fill="#ababab"/>
<circle cx="378.4" cy="277.9" r="2.45" fill="#ababab"/>
<circle cx="415.1" cy="303.7" r="2.45" fill="#ababab"/>
<circle cx="451.9" cy="283.2" r="2.45" fill="#ababab"/>
<circle cx="488.6" cy="311.7" r="2.45" fill="#ababab"/>
<circle cx="525.4" cy="292.5" r="2.45" fill="#ababab"/>
<circle cx="562.1" cy="256.3" r="2.45" fill="#ababab"/>
<circle cx="598.9" cy="300.0" r="2.45" fill="#ababab"/>
<circle cx="47.6" cy="361.2" r="2.45" fill="#ababab"/>
<circle cx="84.3" cy="357.6" r="2.45" fill="#ababab"/>
<circle cx="121.1" cy="317.5" r="2.45" fill="#ababab"/>
<circle cx="157.8" cy="292.5" r="2.45" fill="#ababab"/>
<circle cx="194.6" cy="264.6" r="2.45" fill="#ababab"/>
<circle cx="231.3" cy="275.4" r="2.45" fill="#ababab"/>
<circle cx="268.1" cy="307.2" r="2.45" fill="#ababab"/>
<circle cx="304.9" cy="308.8" r="2.45" fill="#ababab"/>
<circle cx="341.6" cy="283.5" r="2.45" fill="#ababab"/>
<circle cx="378.4" cy="288.4" r="2.45" fill="#ababab"/>
<circle cx="415.1" cy="265.0" r="2.45" fill="#ababab"/>
<circle cx="451.9" cy="340.0" r="2.45" fill="#ababab"/>
<circle cx="488.6" cy="325.2" r="2.45" fill="#ababab"/>
<circle cx="525.4" cy="275.0" r="2.45" fill="#ababab"/>
<circle cx="562.1" cy="327.7" r="2.45" fill="#ababab"/>
<circle cx="598.9" cy="347.0" r="2.45" fill="#ababab"/>
<circle cx="47.6" cy="359.9" r="2.45" fill="#ababab"/>
<circle cx="84.3" cy="334.3" r="2.45" fill="#ababab"/>
<circle cx="121.1" cy="306.0" r="2.45" fill="#ababab"/>
<circle cx="157.8" cy="289.5" r="2.45" fill="#ababab"/>
<circle cx="194.6" cy="280.0" r="2.45" fill="#ababab"/>
<circle cx="231.3" cy="298.5" r="2.45" fill="#ababab"/>
<circle cx="268.1" cy="303.9" r="2.45" fill="#ababab"/>
<circle cx="304.9" cy="275.0" r="2.45" fill="#ababab"/>
<circle cx="341.6" cy="264.2" r="2.45" fill="#ababab"/>
<circle cx="378.4" cy="260.8" r="2.45" fill="#ababab"/>
<circle cx="415.1" cy="290.0" r="2.45" fill="#ababab"/>
<circle cx="451.9" cy="325.0" r="2.45" fill="#ababab"/>
<circle cx="488.6" cy="342.2" r="2.45" fill="#ababab"/>
<circle cx="525.4" cy="330.5" r="2.45" fill="#ababab"/>
<circle cx="562.1" cy="323.9" r="2.45" fill="#ababab"/>
<circle cx="598.9" cy="326.0" r="2.45" fill="#ababab"/>
<circle cx="47.6" cy="347.5" r="2.45" fill="#ababab"/>
<circle cx="84.3" cy="328.4" r="2.45" fill="#ababab"/>
<circle cx="121.1" cy="293.7" r="2.45" fill="#ababab"/>
<circle cx="157.8" cy="264.0" r="2.45" fill="#ababab"/>
<circle cx="194.6" cy="250.2" r="2.45" fill="#ababab"/>
<circle cx="231.3" cy="279.2" r="2.45" fill="#ababab"/>
<circle cx="268.1" cy="312.1" r="2.45" fill="#ababab"/>
<circle cx="304.9" cy="297.8" r="2.45" fill="#ababab"/>
<circle cx="341.6" cy="302.6" r="2.45" fill="#ababab"/>
<circle cx="378.4" cy="261.8" r="2.45" fill="#ababab"/>
<circle cx="415.1" cy="245.7" r="2.45" fill="#ababab"/>
<circle cx="451.9" cy="241.8" r="2.45" fill="#ababab"/>
<circle cx="488.6" cy="355.7" r="2.45" fill="#ababab"/>
<circle cx="525.4" cy="325.6" r="2.45" fill="#ababab"/>
<circle cx="562.1" cy="329.7" r="2.45" fill="#ababab"/>
<circle cx="598.9" cy="313.0" r="2.45" fill="#ababab"/>
<circle cx="47.6" cy="351.0" r="2.45" fill="#ababab"/>
<circle cx="84.3" cy="345.3" r="2.45" fill="#ababab"/>
<circle cx="121.1" cy="314.5" r="2.45" fill="#ababab"/>
<circle cx="157.8" cy="300.2" r="2.45" fill="#ababab"/>
<circle cx="194.6" cy="289.5" r="2.45" fill="#ababab"/>
<circle cx="231.3" cy="333.4" r="2.45" fill="#ababab"/>
<circle cx="268.1" cy="308.8" r="2.45" fill="#ababab"/>
<circle cx="304.9" cy="318.2" r="2.45" fill="#ababab"/>
<circle cx="341.6" cy="305.8" r="2.45" fill="#ababab"/>
<circle cx="378.4" cy="278.5" r="2.45" fill="#ababab"/>
<circle cx="415.1" cy="255.8" r="2.45" fill="#ababab"/>
<circle cx="451.9" cy="253.5" r="2.45" fill="#ababab"/>
<circle cx="488.6" cy="236.3" r="2.45" fill="#ababab"/>
<circle cx="525.4" cy="271.7" r="2.45" fill="#ababab"/>
<circle cx="562.1" cy="312.6" r="2.45" fill="#ababab"/>
<circle cx="598.9" cy="320.0" r="2.45" fill="#ababab"/>
<circle cx="47.6" cy="363.3" r="2.45" fill="#ababab"/>
<circle cx="84.3" cy="358.3" r="2.45" fill="#ababab"/>
<circle cx="121.1" cy="320.5" r="2.45" fill="#ababab"/>
<circle cx="157.8" cy="304.8" r="2.45" fill="#ababab"/>
<circle cx="194.6" cy="304.3" r="2.45" fill="#ababab"/>
<circle cx="231.3" cy="281.8" r="2.45" fill="#ababab"/>
<circle cx="268.1" cy="303.0" r="2.45" fill="#ababab"/>
<circle cx="304.9" cy="285.0" r="2.45" fill="#ababab"/>
<circle cx="341.6" cy="288.3" r="2.45" fill="#ababab"/>
<circle cx="378.4" cy="234.2" r="2.45" fill="#ababab"/>
<circle cx="415.1" cy="223.3" r="2.45" fill="#ababab"/>
<circle cx="451.9" cy="204.4" r="2.45" fill="#ababab"/>
<circle cx="488.6" cy="195.2" r="2.45" fill="#ababab"/>
<circle cx="525.4" cy="251.5" r="2.45" fill="#ababab"/>
<circle cx="562.1" cy="284.4" r="2.45" fill="#ababab"/>
<circle cx="598.9" cy="244.0" r="2.45" fill="#ababab"/>
<circle cx="47.6" cy="361.9" r="2.45" fill="#ababab"/>
<circle cx="84.3" cy="348.0" r="2.45" fill="#ababab"/>
<circle cx="121.1" cy="301.0" r="2.45" fill="#ababab"/>
<circle cx="157.8" cy="277.5" r="2.45" fill="#ababab"/>
<circle cx="194.6" cy="291.3" r="2.45" fill="#ababab"/>
<circle cx="231.3" cy="335.9" r="2.45" fill="#ababab"/>
<circle cx="268.1" cy="331.5" r="2.45" fill="#ababab"/>
<circle cx="304.9" cy="308.2" r="2.45" fill="#ababab"/>
<circle cx="341.6" cy="271.4" r="2.45" fill="#ababab"/>
<circle cx="378.4" cy="279.8" r="2.45" fill="#ababab"/>
<circle cx="415.1" cy="243.2" r="2.45" fill="#ababab"/>
<circle cx="451.9" cy="204.1" r="2.45" fill="#ababab"/>
<circle cx="488.6" cy="210.4" r="2.45" fill="#ababab"/>
<circle cx="525.4" cy="226.5" r="2.45" fill="#ababab"/>
<circle cx="562.1" cy="253.3" r="2.45" fill="#ababab"/>
<circle cx="598.9" cy="294.0" r="2.45" fill="#ababab"/>
<circle cx="47.6" cy="359.2" r="2.45" fill="#ababab"/>
<circle cx="84.3" cy="354.2" r="2.45" fill="#ababab"/>
<circle cx="121.1" cy="319.0" r="2.45" fill="#ababab"/>
<circle cx="157.8" cy="288.0" r="2.45" fill="#ababab"/>
<circle cx="194.6" cy="298.7" r="2.45" fill="#ababab"/>
<circle cx="231.3" cy="318.0" r="2.45" fill="#ababab"/>
<circle cx="268.1" cy="336.1" r="2.45" fill="#ababab"/>
<circle cx="304.9" cy="341.3" r="2.45" fill="#ababab"/>
<circle cx="341.6" cy="304.2" r="2.45" fill="#ababab"/>
<circle cx="378.4" cy="262.8" r="2.45" fill="#ababab"/>
<circle cx="415.1" cy="252.0" r="2.45" fill="#ababab"/>
<circle cx="451.9" cy="251.1" r="2.45" fill="#ababab"/>
<circle cx="488.6" cy="219.6" r="2.45" fill="#ababab"/>
<circle cx="525.4" cy="250.9" r="2.45" fill="#ababab"/>
<circle cx="562.1" cy="250.2" r="2.45" fill="#ababab"/>
<circle cx="598.9" cy="273.0" r="2.45" fill="#ababab"/>
<circle cx="47.6" cy="358.5" r="2.45" fill="#ababab"/>
<circle cx="84.3" cy="355.6" r="2.45" fill="#ababab"/>
<circle cx="121.1" cy="313.0" r="2.45" fill="#ababab"/>
<circle cx="157.8" cy="279.8" r="2.45" fill="#ababab"/>
<circle cx="194.6" cy="257.4" r="2.45" fill="#ababab"/>
<circle cx="231.3" cy="277.9" r="2.45" fill="#ababab"/>
<circle cx="268.1" cy="309.7" r="2.45" fill="#ababab"/>
<circle cx="304.9" cy="295.6" r="2.45" fill="#ababab"/>
<circle cx="341.6" cy="270.0" r="2.45" fill="#ababab"/>
<circle cx="378.4" cy="220.5" r="2.45" fill="#ababab"/>
<circle cx="415.1" cy="248.2" r="2.45" fill="#ababab"/>
<circle cx="451.9" cy="237.6" r="2.45" fill="#ababab"/>
<circle cx="488.6" cy="218.0" r="2.45" fill="#ababab"/>
<circle cx="525.4" cy="249.6" r="2.45" fill="#ababab"/>
<circle cx="562.1" cy="231.6" r="2.45" fill="#ababab"/>
<circle cx="598.9" cy="239.6" r="2.45" fill="#ababab"/>
<circle cx="47.6" cy="364.6" r="2.45" fill="#ababab"/>
<circle cx="84.3" cy="356.3" r="2.45" fill="#ababab"/>
<circle cx="121.1" cy="324.0" r="2.45" fill="#ababab"/>
<circle cx="157.8" cy="291.0" r="2.45" fill="#ababab"/>
<circle cx="194.6" cy="295.6" r="2.45" fill="#ababab"/>
<circle cx="231.3" cy="334.7" r="2.45" fill="#ababab"/>
<circle cx="268.1" cy="356.0" r="2.45" fill="#ababab"/>
<circle cx="304.9" cy="338.3" r="2.45" fill="#ababab"/>
<circle cx="341.6" cy="319.5" r="2.45" fill="#ababab"/>
<circle cx="378.4" cy="257.7" r="2.45" fill="#ababab"/>
<circle cx="415.1" cy="247.0" r="2.45" fill="#ababab"/>
<circle cx="451.9" cy="203.7" r="2.45" fill="#ababab"/>
<circle cx="488.6" cy="244.1" r="2.45" fill="#ababab"/>
<circle cx="525.4" cy="250.2" r="2.45" fill="#ababab"/>
<circle cx="562.1" cy="232.7" r="2.45" fill="#ababab"/>
<circle cx="598.9" cy="297.0" r="2.45" fill="#ababab"/>
<circle cx="47.6" cy="358.0" r="2.45" fill="#ababab"/>
<circle cx="84.3" cy="326.7" r="2.45" fill="#ababab"/>
<circle cx="121.1" cy="297.5" r="2.45" fill="#ababab"/>
<circle cx="157.8" cy="264.9" r="2.45" fill="#ababab"/>
<circle cx="194.6" cy="270.3" r="2.45" fill="#ababab"/>
<circle cx="231.3" cy="337.2" r="2.45" fill="#ababab"/>
<circle cx="268.1" cy="332.6" r="2.45" fill="#ababab"/>
<circle cx="304.9" cy="339.8" r="2.45" fill="#ababab"/>
<circle cx="341.6" cy="326.3" r="2.45" fill="#ababab"/>
<circle cx="378.4" cy="298.0" r="2.45" fill="#ababab"/>
<circle cx="415.1" cy="286.0" r="2.45" fill="#ababab"/>
<circle cx="451.9" cy="302.1" r="2.45" fill="#ababab"/>
<circle cx="488.6" cy="310.0" r="2.45" fill="#ababab"/>
<circle cx="525.4" cy="295.8" r="2.45" fill="#ababab"/>
<circle cx="562.1" cy="292.8" r="2.45" fill="#ababab"/>
<circle cx="598.9" cy="277.0" r="2.45" fill="#ababab"/>
<path d="M47.6,317.8 L84.3,317.7 L121.1,317.5 L157.8,317.4 L194.6,317.2 L231.3,317.1 L268.1,317.0 L304.9,316.8 L341.6,316.7 L378.4,316.5 L415.1,316.4 L451.9,316.3 L488.6,316.1 L525.4,316.0 L562.1,315.8 L598.9,315.7" fill="none" stroke="#1226ff" stroke-width="2.1"/>
<path d="M47.6,358.1 L84.3,340.7 L121.1,310.5 L157.8,285.5 L194.6,275.2 L231.3,304.7 L268.1,317.9 L304.9,302.8 L341.6,283.7 L378.4,271.7 L415.1,262.6 L451.9,263.5 L488.6,271.3 L525.4,276.7 L562.1,281.6 L598.9,288.1" fill="none" stroke="#111" stroke-width="1.1"/>
<circle cx="47.6" cy="358.1" r="2.6" fill="#000"/>
<circle cx="84.3" cy="340.7" r="2.6" fill="#000"/>
<circle cx="121.1" cy="310.5" r="2.6" fill="#000"/>
<circle cx="157.8" cy="285.5" r="2.6" fill="#000"/>
<circle cx="194.6" cy="275.2" r="2.6" fill="#000"/>
<circle cx="231.3" cy="304.7" r="2.6" fill="#000"/>
<circle cx="268.1" cy="317.9" r="2.6" fill="#000"/>
<circle cx="304.9" cy="302.8" r="2.6" fill="#000"/>
<circle cx="341.6" cy="283.7" r="2.6" fill="#000"/>
<circle cx="378.4" cy="271.7" r="2.6" fill="#000"/>
<circle cx="415.1" cy="262.6" r="2.6" fill="#000"/>
<circle cx="451.9" cy="263.5" r="2.6" fill="#000"/>
<circle cx="488.6" cy="271.3" r="2.6" fill="#000"/>
<circle cx="525.4" cy="276.7" r="2.6" fill="#000"/>
<circle cx="562.1" cy="281.6" r="2.6" fill="#000"/>
<circle cx="598.9" cy="288.1" r="2.6" fill="#000"/>
</g>
<text x="58.9" y="115.6" font-size="11" letter-spacing="0.8" textLength="49.6" lengthAdjust="spacingAndGlyphs">National</text>
<text x="114.8" y="115.6" font-size="11" letter-spacing="0.8" textLength="49.1" lengthAdjust="spacingAndGlyphs">Weather</text>
<text x="171.3" y="115.6" font-size="11" letter-spacing="0.8" textLength="43.8" lengthAdjust="spacingAndGlyphs">Service</text>
<text x="221.4" y="115.6" font-size="11" letter-spacing="0.8" textLength="38.0" lengthAdjust="spacingAndGlyphs">Global</text>
<text x="266.5" y="115.6" font-size="11" letter-spacing="0.8" textLength="53.0" lengthAdjust="spacingAndGlyphs">Forecast</text>
<text x="323.9" y="115.6" font-size="11" letter-spacing="0.8" textLength="46.2" lengthAdjust="spacingAndGlyphs">System</text>
<line x1="64.4" x2="103.8" y1="126.8" y2="126.8" stroke="#aaa" stroke-width="1"/>
<circle cx="64.4" cy="126.8" r="2.6" fill="#a4a4a4"/><circle cx="103.8" cy="126.8" r="2.6" fill="#a4a4a4"/>
<text x="114.8" y="130.9" font-size="11" letter-spacing="0.8" textLength="58.1" lengthAdjust="spacingAndGlyphs">Ensemble</text>
<text x="180.1" y="130.9" font-size="11" letter-spacing="0.8" textLength="55.6" lengthAdjust="spacingAndGlyphs">Members</text>
<rect x="272.1" y="122" width="39.9" height="4.9" fill="#5aaaff"/><rect x="272.1" y="126.8" width="39.9" height="4.8" fill="#fa5a5a"/>
<line x1="272.4" x2="311.7" y1="126.8" y2="126.8" stroke="#111" stroke-width="1.3"/>
<circle cx="272.4" cy="126.8" r="2.6" fill="#000"/><circle cx="311.7" cy="126.8" r="2.6" fill="#000"/>
<text x="323.3" y="130.9" font-size="11" letter-spacing="0.8" textLength="58.1" lengthAdjust="spacingAndGlyphs">Ensemble</text>
<text x="387.7" y="130.9" font-size="11" letter-spacing="0.8" textLength="49.1" lengthAdjust="spacingAndGlyphs">Average</text>
<line x1="480.3" x2="519.8" y1="126.9" y2="126.9" stroke="#1226ff" stroke-width="2.2" stroke-linecap="round"/>
<text x="531.1" y="130.9" font-size="11" letter-spacing="0.8" textLength="44.7" lengthAdjust="spacingAndGlyphs">Normal</text>
<text x="462.0" y="445.6" font-size="11.6" letter-spacing="0.8" textLength="12.0" lengthAdjust="spacingAndGlyphs">©</text>
<text x="477.5" y="445.6" font-size="11.6" letter-spacing="0.8" textLength="33.6" lengthAdjust="spacingAndGlyphs">World</text>
<text x="516.6" y="445.6" font-size="11.6" letter-spacing="0.8" textLength="16.7" lengthAdjust="spacingAndGlyphs">Ag</text>
<text x="538.5" y="445.6" font-size="11.6" letter-spacing="0.8" textLength="49.4" lengthAdjust="spacingAndGlyphs">Weather</text>
<rect x="47.6" y="98.7" width="550.6999999999999" height="353.90000000000003" fill="none" stroke="#151515" stroke-width="1.5"/>
<line x1="43.1" x2="47.6" y1="394.2" y2="394.2" stroke="#000" stroke-width="1.2"/>
<text x="39.2" y="399.4" font-size="13.7" text-anchor="end" textLength="14.4" lengthAdjust="spacingAndGlyphs" stroke="#1a1a1a" stroke-width="0.25">70</text>
<line x1="43.1" x2="47.6" y1="321.7" y2="321.7" stroke="#000" stroke-width="1.2"/>
<text x="39.2" y="326.9" font-size="13.7" text-anchor="end" textLength="14.4" lengthAdjust="spacingAndGlyphs" stroke="#1a1a1a" stroke-width="0.25">75</text>
<line x1="43.1" x2="47.6" y1="249.2" y2="249.2" stroke="#000" stroke-width="1.2"/>
<text x="39.2" y="254.39999999999998" font-size="13.7" text-anchor="end" textLength="14.4" lengthAdjust="spacingAndGlyphs" stroke="#1a1a1a" stroke-width="0.25">80</text>
<line x1="43.1" x2="47.6" y1="176.7" y2="176.7" stroke="#000" stroke-width="1.2"/>
<text x="39.2" y="181.89999999999998" font-size="13.7" text-anchor="end" textLength="14.4" lengthAdjust="spacingAndGlyphs" stroke="#1a1a1a" stroke-width="0.25">85</text>
<line x1="43.1" x2="47.6" y1="104.2" y2="104.2" stroke="#000" stroke-width="1.2"/>
<text x="39.2" y="109.4" font-size="13.7" text-anchor="end" textLength="14.4" lengthAdjust="spacingAndGlyphs" stroke="#1a1a1a" stroke-width="0.25">90</text>
<line x1="84.35" x2="84.35" y1="452.6" y2="457.6" stroke="#000" stroke-width="1.4"/>
<text x="84.75" y="467.9" font-size="12.6" text-anchor="middle" textLength="27" lengthAdjust="spacingAndGlyphs" stroke="#1a1a1a" stroke-width="0.25">9OCT</text>
<line x1="157.85" x2="157.85" y1="452.6" y2="457.6" stroke="#000" stroke-width="1.4"/>
<text x="158.25" y="467.9" font-size="12.6" text-anchor="middle" textLength="32.2" lengthAdjust="spacingAndGlyphs" stroke="#1a1a1a" stroke-width="0.25">11OCT</text>
<line x1="231.35" x2="231.35" y1="452.6" y2="457.6" stroke="#000" stroke-width="1.4"/>
<text x="231.75" y="467.9" font-size="12.6" text-anchor="middle" textLength="32.2" lengthAdjust="spacingAndGlyphs" stroke="#1a1a1a" stroke-width="0.25">13OCT</text>
<line x1="304.85" x2="304.85" y1="452.6" y2="457.6" stroke="#000" stroke-width="1.4"/>
<text x="305.25" y="467.9" font-size="12.6" text-anchor="middle" textLength="32.2" lengthAdjust="spacingAndGlyphs" stroke="#1a1a1a" stroke-width="0.25">15OCT</text>
<line x1="378.35" x2="378.35" y1="452.6" y2="457.6" stroke="#000" stroke-width="1.4"/>
<text x="378.75" y="467.9" font-size="12.6" text-anchor="middle" textLength="32.2" lengthAdjust="spacingAndGlyphs" stroke="#1a1a1a" stroke-width="0.25">17OCT</text>
<line x1="451.85" x2="451.85" y1="452.6" y2="457.6" stroke="#000" stroke-width="1.4"/>
<text x="452.25" y="467.9" font-size="12.6" text-anchor="middle" textLength="32.2" lengthAdjust="spacingAndGlyphs" stroke="#1a1a1a" stroke-width="0.25">19OCT</text>
<line x1="525.35" x2="525.35" y1="452.6" y2="457.6" stroke="#000" stroke-width="1.4"/>
<text x="525.75" y="467.9" font-size="12.6" text-anchor="middle" textLength="32.2" lengthAdjust="spacingAndGlyphs" stroke="#1a1a1a" stroke-width="0.25">21OCT</text>
<line x1="598.85" x2="598.85" y1="452.6" y2="457.6" stroke="#000" stroke-width="1.4"/>
<text x="599.25" y="467.9" font-size="12.6" text-anchor="middle" textLength="32.2" lengthAdjust="spacingAndGlyphs" stroke="#1a1a1a" stroke-width="0.25">23OCT</text>
<text x="84.05" y="480.2" font-size="12.6" text-anchor="middle" textLength="25.6" lengthAdjust="spacingAndGlyphs" stroke="#1a1a1a" stroke-width="0.25">2025</text>
<text x="2.8" y="268.5" font-size="17.5" text-anchor="start">°</text>
<text x="10.0" y="266.7" font-size="14.9" text-anchor="start">F</text>
</svg></body></html>
